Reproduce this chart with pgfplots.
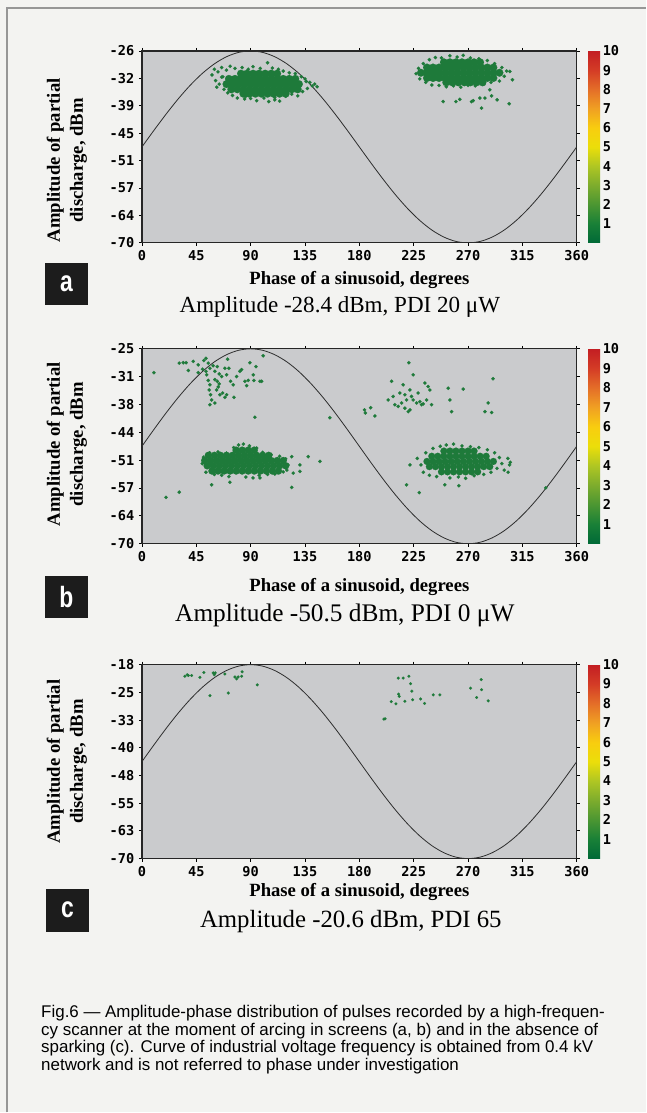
\documentclass[border=0pt]{standalone}
\usepackage{pgfplots}
\pgfplotsset{compat=1.18}
\usepackage{fontspec}
\setmainfont{Liberation Serif}
\newfontfamily\monofam{DejaVu Sans Mono}
\newfontfamily\sansfam{Liberation Sans}
\newfontfamily\condfam{Liberation Sans}[FakeStretch=0.78]

\definecolor{pagebg}{RGB}{243,243,241}
\definecolor{plotgray}{RGB}{202,203,205}
\definecolor{ptgreen}{RGB}{30,122,58}
\definecolor{curvecol}{RGB}{45,45,45}
\definecolor{boxblack}{RGB}{28,28,28}
\definecolor{framegray}{RGB}{150,150,150}

\newcommand\tickfont{\monofam\bfseries\fontsize{10.2}{12}\selectfont}
\newcommand\labfont{\bfseries\fontsize{14}{17.25}\selectfont}

\pgfplotsset{
  colormap={pd}{rgb255=(0,105,55) rgb255=(25,128,55) rgb255=(75,150,50)
    rgb255=(125,172,45) rgb255=(175,198,35) rgb255=(235,222,10)
    rgb255=(248,205,15) rgb255=(240,160,35) rgb255=(228,110,40)
    rgb255=(212,60,38) rgb255=(195,30,35)},
  pdaxis/.style={
    scale only axis, width=326.25pt, height=#1,
    xmin=0, xmax=360,
    xtick={0,45,...,360},
    xticklabels={0,45,90,135,180,225,270,315,360},
    tick align=outside, major tick length=2.25pt,
    tick style={black, line width=0.6pt},
    axis background/.style={fill=plotgray},
    axis line style={line width=0.9pt, draw=black!85},
    ticklabel style={font=\tickfont},
    xlabel={Phase of a sinusoid, degrees},
    ylabel={Amplitude of partial\\discharge, dBm},
    xlabel style={font=\labfont, anchor=center},
    ylabel style={font=\labfont, align=center, anchor=south, inner sep=0pt},
    point meta min=0, point meta max=10,
    colormap name=pd,
    colorbar,
    colorbar style={
      at={(parent axis.south east)}, anchor=south west,
      scale only axis, width=9pt, height=#1,
      ytick={1,2,...,10}, major tick length=0pt,
      yticklabel style={font=\tickfont, inner sep=1.8pt},
      axis line style={draw=none},
      /pgf/number format/assume math mode=true,
    },
  },
  pdsmall/.style={only marks, mark=*, mark size=1.3pt,
    mark options={fill=ptgreen, draw=ptgreen, line width=0.1pt}},
  pdcore/.style={only marks, mark=*, mark size=#1,
    mark options={fill=ptgreen, draw=ptgreen, line width=0.1pt}},
  sinus/.style={no marks, smooth, line width=0.6pt, color=curvecol},
}

\begin{document}
\begin{tikzpicture}[x=0.75pt, y=0.75pt]
\fill[pagebg] (0,0) rectangle (646,1113);
\draw[framegray, line width=0.8pt] (7,0) -- (7,1105) -- (646,1105);

% ---------------- panel a
\begin{axis}[pdaxis=144pt, at={(106.5pt,652.5pt)}, anchor=south west,
  ymin=-70, ymax=-26,
  ytick={-70,-63.714,-57.429,-51.143,-44.857,-38.571,-32.286,-26},
  yticklabels={-70,-64,-57,-51,-45,-39,-32,-26},
  xlabel style={at={(axis description cs:0.5,0)}, yshift=-27.5pt},
  ylabel style={at={(axis description cs:-0.126,0.43)}},
]
\addplot[sinus] coordinates {
(0,-48)(10,-44.18)(20,-40.48)(30,-37)(40,-33.86)(50,-31.15)(60,-28.95)(70,-27.33)(80,-26.33)(90,-26)
(100,-26.33)(110,-27.33)(120,-28.95)(130,-31.15)(140,-33.86)(150,-37)(160,-40.48)(170,-44.18)(180,-48)
(190,-51.82)(200,-55.52)(210,-59)(220,-62.14)(230,-64.85)(240,-67.05)(250,-68.67)(260,-69.67)(270,-70)
(280,-69.67)(290,-68.67)(300,-67.05)(310,-64.85)(320,-62.14)(330,-59)(340,-55.52)(350,-51.82)(360,-48)};
% cluster near 100 deg, dense core
\addplot[pdcore=2.9pt] coordinates {
(82,-31.2)(87,-31.2)(92,-31.2)(97,-31.2)(102,-31.2)(107,-31.2)(112,-31.2)
(72,-32.4)(77,-32.4)(82,-32.4)(87,-32.4)(92,-32.4)(97,-32.4)(102,-32.4)(107,-32.4)(112,-32.4)(117,-32.4)(122,-32.4)(127,-32.4)
(70,-33.6)(75,-33.6)(80,-33.6)(85,-33.6)(90,-33.6)(95,-33.6)(100,-33.6)(105,-33.6)(110,-33.6)(115,-33.6)(120,-33.6)(125,-33.6)(130,-33.6)
(74,-34.8)(79,-34.8)(84,-34.8)(89,-34.8)(94,-34.8)(99,-34.8)(104,-34.8)(109,-34.8)(114,-34.8)(119,-34.8)(124,-34.8)(129,-34.8)
(84,-35.8)(89,-35.8)(94,-35.8)(99,-35.8)(104,-35.8)(109,-35.8)(114,-35.8)(119,-35.8)};
\addplot[pdsmall] coordinates {
(58,-31.5)(60,-30.2)(61,-32.8)(63,-30.8)(64,-33.6)(66,-29.8)(67,-31.9)(68,-34.8)(70,-30.4)(71,-35.6)
(73,-29.5)(75,-36.2)(77,-30.0)(79,-36.8)(83,-29.8)(85,-37.0)(88,-30.2)(90,-36.9)(92,-29.6)(95,-37.4)
(98,-30.0)(101,-36.8)(104,-28.7)(105,-37.6)(108,-29.9)(110,-36.7)(113,-30.2)(114,-37.5)(117,-30.6)(119,-36.4)
(122,-31.0)(124,-35.9)(127,-31.2)(129,-36.3)(132,-31.9)(133,-35.3)(135,-32.4)(137,-34.6)(139,-33.2)(141,-34.0)
(143,-33.6)(145,-34.2)(136,-33.0)(110,-37.2)(86,-36.4)(66,-32.0)(62,-34.3)};
% cluster near 262 deg
\addplot[pdcore=2.9pt] coordinates {
(250,-28.6)(255,-28.6)(260,-28.6)(265,-28.6)(270,-28.6)(275,-28.6)(280,-28.6)
(236,-29.8)(241,-29.8)(246,-29.8)(251,-29.8)(256,-29.8)(261,-29.8)(266,-29.8)(271,-29.8)(276,-29.8)(281,-29.8)(286,-29.8)(291,-29.8)
(231,-31)(236,-31)(241,-31)(246,-31)(251,-31)(256,-31)(261,-31)(266,-31)(271,-31)(276,-31)(281,-31)(286,-31)(291,-31)(296,-31)
(236,-32.2)(241,-32.2)(246,-32.2)(251,-32.2)(256,-32.2)(261,-32.2)(266,-32.2)(271,-32.2)(276,-32.2)(281,-32.2)(286,-32.2)(291,-32.2)
(252,-33.2)(257,-33.2)(262,-33.2)(267,-33.2)(272,-33.2)(277,-33.2)(282,-33.2)};
\addplot[pdsmall] coordinates {
(227,-31.2)(229,-30.0)(230,-32.4)(233,-28.9)(235,-33.2)(238,-28.0)(240,-33.8)(243,-27.5)(246,-33.9)(248,-27.6)
(252,-34.2)(255,-27.1)(258,-34.0)(261,-27.4)(264,-34.3)(266,-27.0)(270,-33.9)(272,-27.6)(276,-34.0)(279,-27.8)
(283,-33.6)(286,-28.2)(289,-33.2)(292,-28.9)(296,-32.9)(298,-29.8)(300,-31.8)(302,-30.6)(304.6,-30.7)(306.8,-32.6)
(249.4,-37.6)(260,-37.6)(263.2,-37.1)(272.9,-37.6)(274.3,-37.4)(279.8,-36.8)(284,-36.8)(288,-34.9)(289.5,-36.3)
(294.1,-37.2)(281.2,-39.1)(304.1,-38.1)};
\end{axis}

% ---------------- panel b
\begin{axis}[pdaxis=146.25pt, at={(106.5pt,426.75pt)}, anchor=south west,
  ymin=-70, ymax=-25,
  ytick={-70,-63.571,-57.143,-50.714,-44.286,-37.857,-31.429,-25},
  yticklabels={-70,-64,-57,-51,-44,-38,-31,-25},
  xlabel style={at={(axis description cs:0.5,0)}, yshift=-32.25pt},
  ylabel style={at={(axis description cs:-0.126,0.51)}},
]
\addplot[sinus] coordinates {
(0,-47.5)(10,-43.59)(20,-39.8)(30,-36.25)(40,-33.04)(50,-30.26)(60,-28.01)(70,-26.36)(80,-25.34)(90,-25)
(100,-25.34)(110,-26.36)(120,-28.01)(130,-30.26)(140,-33.04)(150,-36.25)(160,-39.8)(170,-43.59)(180,-47.5)
(190,-51.41)(200,-55.2)(210,-58.75)(220,-61.96)(230,-64.74)(240,-66.99)(250,-68.64)(260,-69.66)(270,-70)
(280,-69.66)(290,-68.64)(300,-66.99)(310,-64.74)(320,-61.96)(330,-58.75)(340,-55.2)(350,-51.41)(360,-47.5)};
% lower left dense cluster
\addplot[pdcore=2.7pt] coordinates {
(78,-48.4)(83,-48.4)(88,-48.4)(93,-48.4)
(55,-49.6)(60,-49.6)(65,-49.6)(70,-49.6)(75,-49.6)(80,-49.6)(85,-49.6)(90,-49.6)(95,-49.6)(100,-49.6)(105,-49.6)
(52,-50.8)(57,-50.8)(62,-50.8)(67,-50.8)(72,-50.8)(77,-50.8)(82,-50.8)(87,-50.8)(92,-50.8)(97,-50.8)(102,-50.8)(107,-50.8)(112,-50.8)(117,-50.8)
(54,-52)(59,-52)(64,-52)(69,-52)(74,-52)(79,-52)(84,-52)(89,-52)(94,-52)(99,-52)(104,-52)(109,-52)(114,-52)(119,-52)
(58,-53.2)(63,-53.2)(68,-53.2)(73,-53.2)(78,-53.2)(83,-53.2)(88,-53.2)(93,-53.2)(98,-53.2)(103,-53.2)(108,-53.2)(113,-53.2)};
\addplot[pdsmall] coordinates {
(50,-51.5)(51,-50.0)(53,-53.5)(56,-49.0)(60,-54.0)(63,-48.8)(66,-54.2)(70,-49.1)(72,-54.5)(76,-47.8)
(80,-47.2)(84,-47.0)(86,-54.6)(89,-47.4)(92,-54.8)(95,-47.9)(97,-54.2)(100,-48.9)(104,-54.0)(107,-49.4)
(110,-53.9)(114,-49.8)(117,-53.4)(119,-50.4)(121,-51.8)(120,-53.0)
(124,-49.9)(130.8,-51.8)(130.8,-53.3)(125.3,-53.7)(137.7,-49.9)(147.4,-51)(97.7,-54.8)(72.8,-55.8)(57.7,-56.4)
(124,-57.0)(30.9,-58.1)(19.9,-59.3)};
% upper left sparse cluster
\addplot[pdsmall] coordinates {
(9.9,-30.5)(30.9,-28.3)(34.2,-28.2)(38.4,-30.0)(42.5,-27.9)(46.6,-30.5)(51.3,-27.7)(53,-27.2)(54.9,-28.3)(56.3,-29.5)
(59,-28.9)(60.4,-30.2)(62.4,-29.1)(64,-30.8)(66,-31.4)(68.7,-29.5)(70.1,-31)(70.9,-27.4)(72,-29.5)(73.4,-32.5)
(75.6,-33.3)(78.4,-31.4)(81.1,-30.2)(82.5,-29.8)(85.3,-32.5)(86.7,-33.5)(88,-32.3)(89.4,-28.2)(92.2,-31)(92.7,-32.3)
(94.4,-29.1)(97.7,-32.5)(99.1,-32.5)(100.4,-26.6)(53.6,-31)(54.9,-32.3)(56.3,-33.3)(55.7,-34.5)(56.8,-35.6)(57.7,-36.8)
(56.3,-37.9)(60.4,-37.5)(61.8,-34.5)(63.2,-33.8)(64.6,-35.6)(66.8,-35.2)(68.7,-36.2)(70.1,-35.6)(76.2,-36.2)(60.4,-32.1)
(62.4,-32.5)(64,-33.1)(46.6,-28.7)(50.2,-29.7)(53,-30.2)(93.5,-40.8)(36.6,-28.2)(155.6,-40.9)};
% upper right sparse cluster
\addplot[pdsmall] coordinates {
(206.7,-32.5)(216.3,-33.3)(213.6,-35.2)(217.7,-35.6)(221.9,-34.5)(223.2,-36)(224.6,-36.8)(227.4,-37.5)(228.7,-35.2)(230.1,-37.2)
(231.5,-37.9)(232.9,-37.7)(235.7,-36.8)(237,-33.7)(238.4,-34.5)(239.8,-37.9)(208,-36)(203.9,-36.8)(209.4,-37.9)(212.2,-38.3)
(215,-37.5)(217.7,-38.7)(220.5,-39.5)(221.9,-39.1)(219.1,-36.8)(253.6,-34.1)(255,-36.8)(256.4,-39.5)(266,-34.3)(286.7,-37.5)
(284,-39.5)(289.5,-39.7)(234.3,-32.9)(221,-28.2)(224.6,-31)(290.7,-31.9)(184.3,-39.1)(185,-39.8)(189.4,-38.6)(192.9,-40.5)};
% lower right cluster
\addplot[pdcore=2.6pt] coordinates {
(250,-48.6)(255,-48.6)(260,-48.6)(265,-48.6)(270,-48.6)(275,-48.6)
(240,-49.8)(245,-49.8)(250,-49.8)(255,-49.8)(260,-49.8)(265,-49.8)(270,-49.8)(275,-49.8)(280,-49.8)(285,-49.8)
(236,-51)(241,-51)(246,-51)(251,-51)(256,-51)(261,-51)(266,-51)(271,-51)(276,-51)(281,-51)(286,-51)(291,-51)
(238,-52.2)(243,-52.2)(248,-52.2)(253,-52.2)(258,-52.2)(263,-52.2)(268,-52.2)(273,-52.2)(278,-52.2)(283,-52.2)(288,-52.2)
(248,-53.4)(253,-53.4)(258,-53.4)(263,-53.4)(268,-53.4)(273,-53.4)(278,-53.4)};
\addplot[pdsmall] coordinates {
(228,-50.3)(231,-51.8)(233,-53.5)(235,-49.0)(238,-54.2)(241,-48.0)(244,-54.5)(247,-47.5)(252,-47.2)(255,-54.8)
(258,-47.0)(262,-54.6)(265,-47.4)(268,-54.9)(272,-47.6)(275,-54.3)(279,-47.8)(283,-54.0)(286,-48.3)(289,-53.5)
(292,-49.0)(294,-52.6)(296,-50.1)(298,-51.5)(300,-53.0)(303,-50.3)(305,-51.2)
(221.9,-51.8)(219.1,-56.4)(229.6,-58.2)(250.8,-56.4)(262.4,-56.6)(303.2,-53.5)(304.4,-51.8)(334.4,-57.1)};
\end{axis}

% ---------------- panel c
\begin{axis}[pdaxis=145.5pt, at={(106.5pt,190.5pt)}, anchor=south west,
  ymin=-70, ymax=-18,
  ytick={-70,-62.571,-55.143,-47.714,-40.286,-32.857,-25.429,-18},
  yticklabels={-70,-63,-55,-48,-40,-33,-25,-18},
  xlabel style={at={(axis description cs:0.5,0)}, yshift=-24.75pt},
  ylabel style={at={(axis description cs:-0.126,0.5)}},
]
\addplot[sinus] coordinates {
(0,-44)(10,-39.49)(20,-35.11)(30,-31)(40,-27.29)(50,-24.08)(60,-21.48)(70,-19.57)(80,-18.39)(90,-18)
(100,-18.39)(110,-19.57)(120,-21.48)(130,-24.08)(140,-27.29)(150,-31)(160,-35.11)(170,-39.49)(180,-44)
(190,-48.51)(200,-52.89)(210,-57)(220,-60.71)(230,-63.92)(240,-66.52)(250,-68.43)(260,-69.61)(270,-70)
(280,-69.61)(290,-68.43)(300,-66.52)(310,-63.92)(320,-60.71)(330,-57)(340,-52.89)(350,-48.51)(360,-44)};
\addplot[pdsmall, mark size=1.1pt] coordinates {
(35.6,-21.1)(37.5,-20.7)(38.4,-20.9)(41.1,-20.9)(48,-21.4)(51.3,-20.1)(59,-20.2)(59.9,-20.7)(60.7,-20.2)(68.7,-20.5)
(77,-21.3)(78.4,-21.8)(79.7,-21.3)(82.5,-21.1)(83,-19.9)(56.3,-26.3)(71.5,-25.6)(95.5,-23.4)
(200.3,-32.6)(201.4,-32.5)(212.2,-21.6)(216.3,-21.6)(221,-21.1)(222.4,-23.1)(223.5,-25.1)(212.5,-25.9)(213,-26.5)
(206.4,-27.9)(210.3,-28.5)(217.7,-27.8)(224.1,-27.4)(230.7,-27.2)(234,-28.4)(241.2,-26.1)(246.7,-26.1)
(272.1,-24.3)(280.9,-22)(281.2,-24.7)(277.1,-26.8)(286.7,-27.7)};
\end{axis}

% ---------------- letter boxes and captions
\fill[boxblack] (45,808) rectangle (88,850);
\node[text=white, font=\condfam\bfseries\fontsize{22}{22}\selectfont] at (66.5,829) {a};
\fill[boxblack] (45,495) rectangle (88,537);
\node[text=white, font=\condfam\bfseries\fontsize{22}{22}\selectfont] at (66.5,516) {b};
\fill[boxblack] (46,181) rectangle (89,224);
\node[text=white, font=\condfam\bfseries\fontsize{22}{22}\selectfont] at (67.5,202.5) {c};

\node[anchor=base, inner sep=0pt, font=\fontsize{17.3}{20}\selectfont] at (340,800) {Amplitude -28.4 dBm, PDI 20 μW};
\node[anchor=base, inner sep=0pt, font=\fontsize{19}{22}\selectfont] at (345,491) {Amplitude -50.5 dBm, PDI 0 μW};
\node[anchor=base, inner sep=0pt, font=\fontsize{18.6}{22}\selectfont] at (351,185) {Amplitude -20.6 dBm, PDI 65};

% ---------------- figure caption
\begin{scope}[every node/.style={anchor=base west, inner sep=0pt, font=\sansfam\fontsize{12.7}{13.5}\selectfont}]
\node at (41,95) {Fig.6 — Amplitude-phase distribution of pulses recorded by a high-frequen-};
\node at (41,77) {cy scanner at the moment of arcing in screens (a, b) and in the absence of};
\node at (41,59.5) {sparking (c). Curve of industrial voltage frequency is obtained from 0.4 kV};
\node at (41,42) {network and is not referred to phase under investigation};
\end{scope}
\end{tikzpicture}
\end{document}
